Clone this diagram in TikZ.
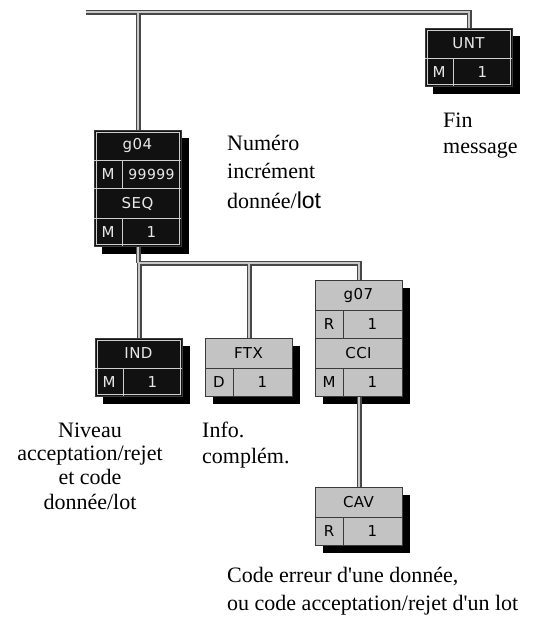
\documentclass[tikz,border=0pt]{standalone}
\usepackage{fontspec}
\setmainfont{Liberation Serif}[Ligatures=TeXOff]
\newfontfamily\boxfont[LetterSpace=3]{DejaVu Sans}
\newfontfamily\lotfont{Liberation Sans}
\definecolor{darkline}{HTML}{3A3A3A}
\definecolor{blkfill}{HTML}{111111}
\definecolor{lightline}{HTML}{CFCFCF}
\definecolor{gryfill}{HTML}{C3C3C3}
\definecolor{blktext}{HTML}{E8E8E8}
\definecolor{connouter}{HTML}{474747}
\definecolor{conninner}{HTML}{C8C8C8}
\tikzset{
  blkbox/.style={draw=darkline, fill=blkfill, line width=1pt, inner sep=0pt},
  grybox/.style={draw=darkline, fill=gryfill, line width=1pt, inner sep=0pt},
  blkinner/.style={draw=lightline, line width=0.9pt},
  gryinner/.style={},
  blkline/.style={draw=lightline, line width=0.9pt},
  gryline/.style={draw=darkline, line width=0.9pt},
  blktxt/.style={text=blktext, font=\boxfont\fontsize{15}{16}\selectfont, inner sep=0pt},
  grytxt/.style={text=black, font=\boxfont\fontsize{15}{16}\selectfont, inner sep=0pt},
  shadowbox/.style={fill=black},
  connout/.style={draw=connouter, line width=5pt},
  connin/.style={draw=conninner, line width=1.6pt},
  lbl/.style={font=\fontsize{22}{25}\selectfont, inner sep=0pt},
}
% name, left, top, kind, header, flag, value
\newcommand\segtwo[7]{%
  \fill[shadowbox] (#2+8,#3+8) rectangle ++(87,58);
  \node[#4box, minimum width=87pt, minimum height=58pt, anchor=north west] (#1) at (#2,#3) {};
  \path[#4inner] (#2+2,#3+2) rectangle (#2+85,#3+56);
  \draw[#4line] (#2,#3+30) -- ++(87,0) (#2+28,#3+30) -- ++(0,28);
  \node[#4txt] (#1-h) at (#2+43.5,#3+15.5) {#5};
  \node[#4txt] (#1-f) at (#2+14,#3+44.5) {#6};
  \node[#4txt] (#1-v) at (#2+57.5,#3+44.5) {#7};
}
% name, left, top, kind, header1, flag1, value1, header2, flag2 (value2 = 1)
\newcommand\segfour[9]{%
  \fill[shadowbox] (#2+8,#3+8) rectangle ++(87,116);
  \node[#4box, minimum width=87pt, minimum height=116pt, anchor=north west] (#1) at (#2,#3) {};
  \path[#4inner] (#2+2,#3+2) rectangle (#2+85,#3+114);
  \draw[#4line] (#2,#3+30) -- ++(87,0) (#2+28,#3+30) -- ++(0,28)
                (#2,#3+58) -- ++(87,0)
                (#2,#3+88) -- ++(87,0) (#2+28,#3+88) -- ++(0,28);
  \node[#4txt] (#1-h) at (#2+43.5,#3+15.5) {#5};
  \node[#4txt] (#1-f) at (#2+14,#3+44.5) {#6};
  \node[#4txt] (#1-v) at (#2+57.5,#3+44.5) {#7};
  \node[#4txt] (#1-h2) at (#2+43.5,#3+73.5) {#8};
  \node[#4txt] (#1-f2) at (#2+14,#3+102.5) {#9};
  \node[#4txt] (#1-v2) at (#2+57.5,#3+102.5) {1};
}
\newcommand\drawconnectors[1]{%
  \draw[style=#1] (busL) -- (busL -| unt.north) -- (unt.north);
  \draw[style=#1] (g04.north |- busL) -- (g04.north);
  \draw[style=#1] (g04.south) -- (g04.south |- busB);
  \draw[style=#1] (ind.north) -- (ind.north |- busB) -- (g07.north |- busB) -- (g07.north);
  \draw[style=#1] (ftx.north) -- (ftx.north |- busB);
  \draw[style=#1] (g07.south) -- (cav.north);
}
\begin{document}
\begin{tikzpicture}[x=1pt,y=-1pt]
\useasboundingbox (0,0) rectangle (543,619);
\segtwo{unt}{425}{28}{blk}{UNT}{M}{1}
\segfour{g04}{94}{130}{blk}{g04}{M}{{\fontsize{14}{15}\selectfont 99999}}{SEQ}{M}
\segtwo{ind}{95}{338}{blk}{IND}{M}{1}
\segtwo{ftx}{205}{338}{gry}{FTX}{D}{1}
\segfour{g07}{315}{280}{gry}{g07}{R}{1}{CCI}{M}
\segtwo{cav}{315}{487}{gry}{CAV}{R}{1}
\coordinate (busL) at (86,12);
\coordinate (busB) at (135,263);
\drawconnectors{connout}
\drawconnectors{connin}
% labels
\node[lbl, anchor=base west] (fin1) at (443,127) {Fin};
\node[lbl, anchor=base west] (fin2) at (443,153) {message};
\node[lbl, anchor=base west] (num1) at (227,150) {Numéro};
\node[lbl, anchor=base west] (num2) at (227,178) {incrément};
\node[lbl, anchor=base west] (num3) at (227,208) {donnée/{\lotfont\fontsize{23}{25}\selectfont lot}};
\node[lbl, anchor=base] (niv1) at (90,437) {Niveau};
\node[lbl, anchor=base] (niv2) at (90,460) {acceptation/rejet};
\node[lbl, anchor=base] (niv3) at (90,484) {et code};
\node[lbl, anchor=base] (niv4) at (90,509) {donnée/lot};
\node[lbl, anchor=base west] (inf1) at (202,437) {Info.};
\node[lbl, anchor=base west] (inf2) at (202,463) {complém.};
\node[lbl, anchor=base west] (cod1) at (227,582) {Code erreur d'une donnée,};
\node[lbl, anchor=base west] (cod2) at (227,610) {ou code acceptation/rejet d'un lot};
\end{tikzpicture}
\end{document}
